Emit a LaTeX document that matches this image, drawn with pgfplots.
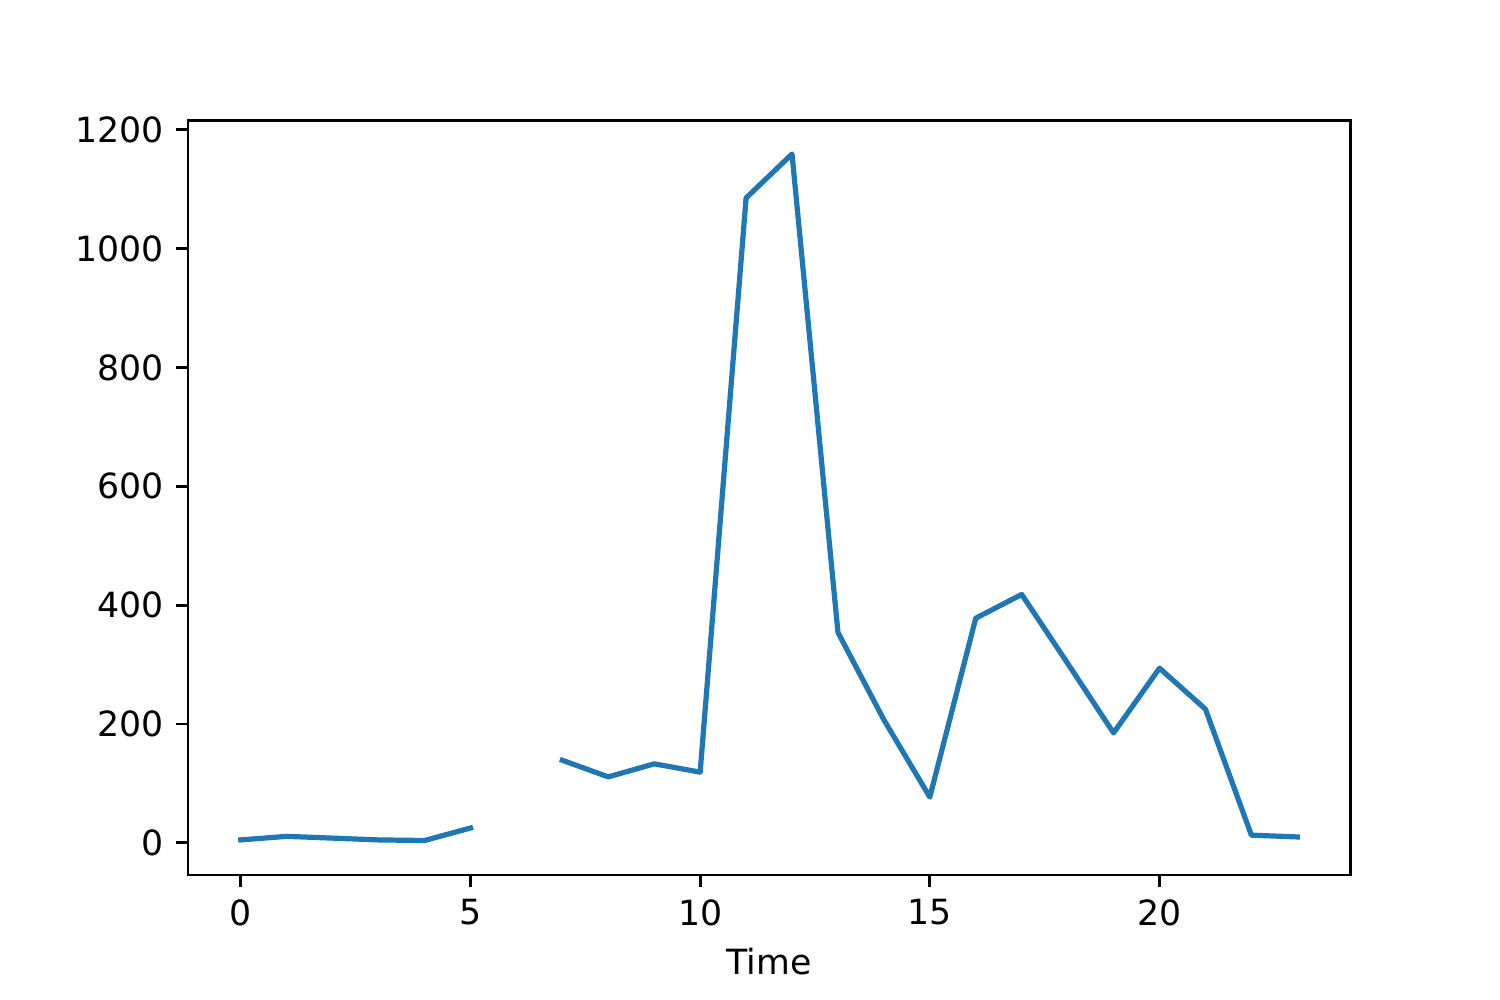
\documentclass[border=0pt]{standalone}
\usepackage{pgfplots}
\pgfplotsset{compat=1.18}
\usepackage{fontspec}
\setmainfont{DejaVu Sans}
\definecolor{mplblue}{HTML}{1F77B4}
\begin{document}
\begin{tikzpicture}[x=1pt,y=1pt]
\path[use as bounding box] (-54.14pt,-36pt) rectangle (377.86pt,252pt);
\begin{axis}[
  at={(0,0)}, anchor=south west,
  scale only axis, width=334.7pt, height=217.4pt,
  xmin=-1.15, xmax=24.15, ymin=-54, ymax=1216,
  xtick={0,5,10,15,20}, ytick={0,200,400,600,800,1000,1200},
  tick align=outside, major tick length=3.5pt,
  xtick pos=bottom, ytick pos=left,
  axis line style={line width=0.8pt},
  every tick/.style={line width=0.8pt, black},
  font=\fontsize{10}{12}\selectfont,
  tick label style={font=\fontsize{10}{12}\selectfont},
  /pgf/number format/assume math mode=true,
  /pgf/number format/1000 sep={},
  xlabel={Time},
  xlabel style={yshift=0.3pt},
  unbounded coords=jump,
]
\addplot[color=mplblue, line width=1.5pt, line join=round, line cap=rect] coordinates {
(0,5) (1,11) (2,8) (3,5) (4,4) (5,25) (6,nan) (7,139) (8,111) (9,133) (10,119)
(11,1085) (12,1159) (13,354) (14,207) (15,77) (16,378) (17,418) (18,302) (19,185)
(20,294) (21,225) (22,13) (23,10)
};
\end{axis}
\end{tikzpicture}
\end{document}
